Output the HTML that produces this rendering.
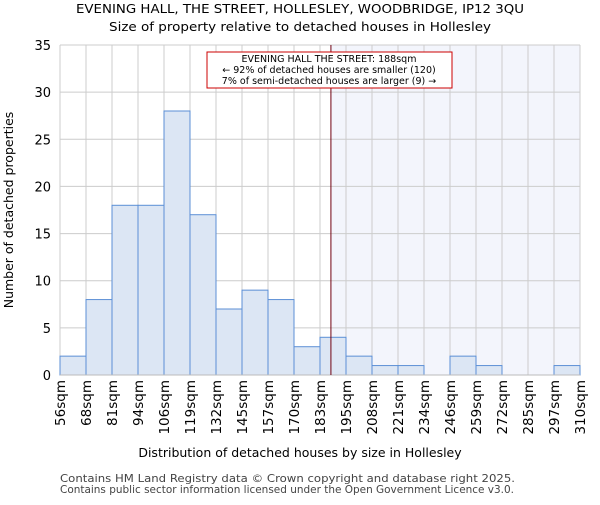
<!DOCTYPE html>
<html><head><meta charset="utf-8"><style>body{margin:0;background:#fff}svg{font-family:"DejaVu Sans","Liberation Sans",sans-serif}</style></head><body>
<svg id="c" width="600" height="500" xmlns="http://www.w3.org/2000/svg">
<text x="300" y="13" text-anchor="middle" font-size="12.5" textLength="448" lengthAdjust="spacingAndGlyphs">EVENING HALL, THE STREET, HOLLESLEY, WOODBRIDGE, IP12 3QU</text>
<text x="300" y="31" text-anchor="middle" font-size="12.5" textLength="382" lengthAdjust="spacingAndGlyphs">Size of property relative to detached houses in Hollesley</text>
<g id="g"></g>
<text x="300" y="457" text-anchor="middle" font-size="12.5">Distribution of detached houses by size in Hollesley</text>
<text transform="translate(13,210) rotate(-90)" text-anchor="middle" font-size="12.5">Number of detached properties</text>
<text x="60" y="482" font-size="10.5" fill="#444" textLength="455" lengthAdjust="spacingAndGlyphs">Contains HM Land Registry data © Crown copyright and database right 2025.</text>
<text x="60" y="493" font-size="10.5" fill="#444" textLength="454" lengthAdjust="spacingAndGlyphs">Contains public sector information licensed under the Open Government Licence v3.0.</text>
</svg>
<script>
const labels=["56sqm","68sqm","81sqm","94sqm","106sqm","119sqm","132sqm","145sqm","157sqm","170sqm","183sqm","195sqm","208sqm","221sqm","234sqm","246sqm","259sqm","272sqm","285sqm","297sqm","310sqm"];
const counts=[2,8,18,18,28,17,7,9,8,3,4,2,1,1,0,2,1,0,0,1];
const yTicks=[0,5,10,15,20,25,30,35];
const markerBin=10.42;
const NS="http://www.w3.org/2000/svg",g=document.getElementById("g");
const L=60,R=580,T=45,B=375,yMax=35;
const bw=(R-L)/counts.length;
const x=i=>L+i*bw, y=v=>B-v/yMax*(B-T);
function mk(t,a,p){const e=document.createElementNS(NS,t);for(const k in a)e.setAttribute(k,a[k]);(p||g).appendChild(e);return e;}
const hl=mk("rect",{x:x(markerBin),y:T,width:R-x(markerBin),height:B-T,fill:"#f3f5fc"});


yTicks.forEach(v=>{const l=mk("line",{x1:L,x2:R,y1:y(v),y2:y(v),stroke:"#ccc"});


const t=mk("text",{x:L-9,y:y(v)+5,"text-anchor":"end","font-size":"13"});t.textContent=v;

});
labels.forEach((s,i)=>{const l=mk("line",{x1:x(i),x2:x(i),y1:T,y2:B,stroke:"#ccc"});


const t=mk("text",{transform:`translate(${x(i)+5},380) rotate(-90)`,"text-anchor":"end","font-size":"13.5"});t.textContent=s;

});
counts.forEach((v,i)=>{if(!v)return;const r=mk("rect",{x:x(i),y:y(v),width:bw,height:B-y(v),fill:"#dce6f4",stroke:"#5b8fd6","stroke-width":1});

});
const ax=mk("line",{x1:L,x2:R,y1:B,y2:B,stroke:"#bbb"});


const ml=mk("line",{x1:x(markerBin),x2:x(markerBin),y1:T,y2:B,stroke:"#700010","stroke-width":1});


const box=mk("rect",{x:207,y:52,width:245,height:36,fill:"#fff",stroke:"#cc0000","stroke-width":1});


["EVENING HALL THE STREET: 188sqm","← 92% of detached houses are smaller (120)","7% of semi-detached houses are larger (9) →"].forEach((s,i)=>{const t=mk("text",{x:329,y:62+i*11,"text-anchor":"middle","font-size":"9.5"});t.textContent=s;

});
</script>
</body></html>
